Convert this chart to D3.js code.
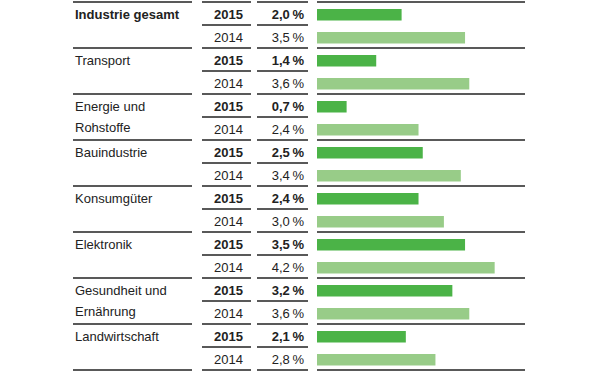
<!DOCTYPE html>
<html>
<head>
<meta charset="utf-8">
<script src="https://cdn.jsdelivr.net/npm/d3@7"></script>
<style>
  body { margin: 0; background: #fff; }
  text { font-family: "Liberation Sans", Arial, sans-serif; font-size: 13px; fill: #222; }
</style>
</head>
<body>
<svg id="chart" width="600" height="373"></svg>
<script>
// Data
const categories = [
    ["Industrie gesamt"],
    ["Transport"],
    ["Energie und", "Rohstoffe"],
    ["Bauindustrie"],
    ["Konsumgüter"],
    ["Elektronik"],
    ["Gesundheit und", "Ernährung"],
    ["Landwirtschaft"],
];
const years = ["2015", "2014"];
const values2015 = [2.0, 1.4, 0.7, 2.5, 2.4, 3.5, 3.2, 2.1];
const values2014 = [3.5, 3.6, 2.4, 3.4, 3.0, 4.2, 3.6, 2.8];

const colors = { "2015": "#4bb347", "2014": "#98cc88" };

const rows = [];
categories.forEach((c, i) => {
    rows.push({ cat: i, year: years[0], value: values2015[i] });
    rows.push({ cat: i, year: years[1], value: values2014[i] });
});

const $svg = d3.select("#chart");
const top0 = 2, rowH = 23;

const y = d3.scaleBand()
    .domain(d3.range(rows.length))
    .range([top0, top0 + rowH * rows.length])
    .paddingInner(0);

const x = d3.scaleLinear()
    .domain([0, 5])
    .range([317, 528.5]);

const fmt = v => d3.format(".1f")(v).replace(".", ",") + "\u2009%";

const cols = {
    label: [73, 192],
    year: [202, 251],
    value: [257, 308],
    bar: [317, 525],
};

const $lines = $svg.append("g").attr("stroke", "#222").attr("stroke-width", 1.5);

// group lines (all columns)
const groupYs = d3.range(categories.length + 1).map(i => y(i * 2) ?? (top0 + rowH * rows.length));
Object.values(cols).forEach(c => {
    $lines.selectAll(null)
      .data(groupYs)
      .join("line")
        .attr("x1", c[0]).attr("x2", c[1])
        .attr("y1", d => d).attr("y2", d => d);
});
// row lines inside groups (year and value columns)
const midYs = d3.range(categories.length).map(i => y(i * 2 + 1));
[cols.year, cols.value].forEach(c => {
    $lines.selectAll(null)
      .data(midYs)
      .join("line")
        .attr("x1", c[0]).attr("x2", c[1])
        .attr("y1", d => d).attr("y2", d => d);
});

// Bars
$svg.append("g")
  .selectAll("rect")
  .data(rows)
  .join("rect")
    .attr("x", x(0))
    .attr("y", (d, i) => y(i) + 7)
    .attr("width", d => x(d.value) - x(0))
    .attr("height", 11.5)
    .attr("fill", d => colors[d.year]);

// Year and value texts
const $txt = $svg.append("g");
$txt.selectAll(".yr")
  .data(rows)
  .join("text")
    .attr("class", "yr")
    .attr("x", 243)
    .attr("y", (d, i) => y(i) + 17)
    .attr("text-anchor", "end")
    .attr("font-weight", d => d.year === "2015" ? "bold" : null)
    .text(d => d.year);

$txt.selectAll(".val")
  .data(rows)
  .join("text")
    .attr("class", "val")
    .attr("x", 304)
    .attr("y", (d, i) => y(i) + 17)
    .attr("text-anchor", "end")
    .attr("font-weight", d => d.year === "2015" ? "bold" : null)
    .text(d => fmt(d.value));

// Category labels
$txt.selectAll(".cat")
  .data(categories)
  .join("text")
    .attr("class", "cat")
    .attr("x", 75)
    .attr("y", (d, i) => y(i * 2) + 17)
    .attr("font-weight", (d, i) => i === 0 ? "bold" : null)
  .selectAll("tspan")
  .data(d => d)
  .join("tspan")
    .attr("x", 75)
    .attr("dy", (d, j) => j === 0 ? 0 : 21)
    .text(d => d);
</script>
</body>
</html>
